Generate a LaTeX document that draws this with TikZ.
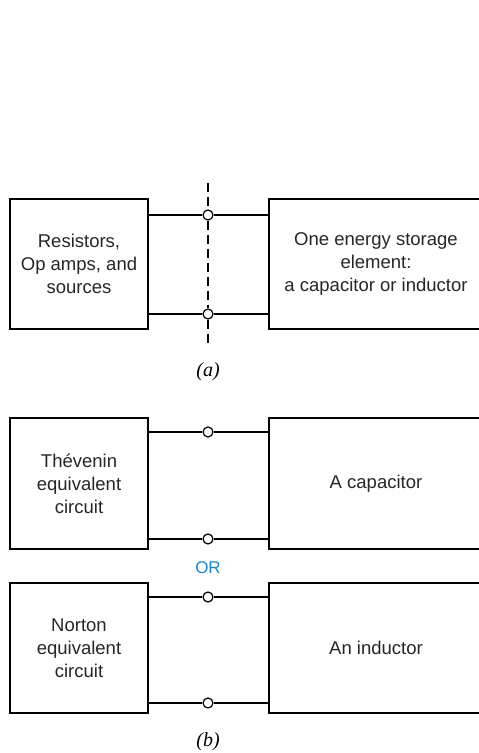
\documentclass[tikz,border=0pt]{standalone}
\usepackage{fontspec}
\setmainfont{Liberation Sans}
\newfontfamily\partfont{Liberation Serif}
\usetikzlibrary{positioning, calc}
\definecolor{orblue}{RGB}{25,135,205}

\begin{document}
\begin{tikzpicture}[x=1pt, y=1pt,
    box/.style={draw, line width=1.7pt, minimum height=130pt, align=center, inner sep=0pt,
                text=black!85, font=\fontsize{18.5}{23}\selectfont},
    term/.style={draw, circle, fill=white, line width=1.2pt, minimum size=10pt, inner sep=0pt},
    wire/.style={line width=1.7pt},
    partlbl/.style={font=\partfont\itshape\fontsize{20}{24}\selectfont}]
    \useasboundingbox (0,0) rectangle (479,753);

    % (a)
    \node[box, minimum width=138pt] (resbox) at (79,489) {Resistors,\\Op amps, and\\sources};
    \node[box, minimum width=214pt] (storbox) at (376,489) {One energy storage\\element:\\a capacitor or inductor};
    \node[term] (ta1) at (208,538) {};
    \node[term] (ta2) at (208,439) {};
    \coordinate (dtop) at (208,570);
    \coordinate (dbot) at (208,408);
    \draw[wire] (ta1 -| resbox.east) -- (ta1) -- (ta1 -| storbox.west);
    \draw[wire] (ta2 -| resbox.east) -- (ta2) -- (ta2 -| storbox.west);
    \draw[line width=1.4pt, dash pattern=on 9pt off 5pt] (dtop) -- (ta1) -- (ta2) -- (dbot);
    \node[partlbl] (cap-a) at (208,381) {(a)};

    % (b)
    \node[box, minimum width=138pt, minimum height=131pt] (thevbox) at (79,269.5) {Thévenin\\equivalent\\circuit};
    \node[box, minimum width=214pt, minimum height=131pt] (capbox) at (376,269.5) {A capacitor};
    \node[term] (tb1) at (208,321) {};
    \node[term] (tb2) at (208,214) {};
    \draw[wire] (tb1 -| thevbox.east) -- (tb1) -- (tb1 -| capbox.west);
    \draw[wire] (tb2 -| thevbox.east) -- (tb2) -- (tb2 -| capbox.west);

    \node[text=orblue, font=\fontsize{17}{20}\selectfont] (orlbl) at (208,185) {OR};

    \node[box, minimum width=138pt] (nortbox) at (79,105) {Norton\\equivalent\\circuit};
    \node[box, minimum width=214pt] (indbox) at (376,105) {An inductor};
    \node[term] (tc1) at (208,156) {};
    \node[term] (tc2) at (208,50) {};
    \draw[wire] (tc1 -| nortbox.east) -- (tc1) -- (tc1 -| indbox.west);
    \draw[wire] (tc2 -| nortbox.east) -- (tc2) -- (tc2 -| indbox.west);
    \node[partlbl] (cap-b) at (208,11) {(b)};
\end{tikzpicture}
\end{document}
